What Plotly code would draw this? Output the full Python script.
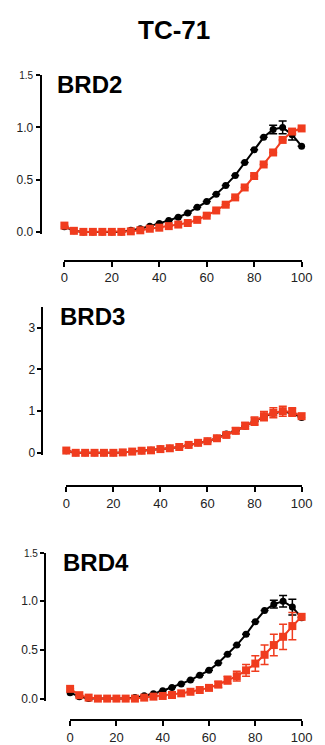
import plotly.graph_objects as go

# the page body has an 8px margin; compensate so the figure lands at reference pixels
OFF = 8
W, H = 325 - OFF, 745 - OFF

x_vals = [0, 4, 8, 12, 16, 20, 24, 28, 32, 36, 40, 44, 48, 52, 56, 60, 64, 68, 72, 76, 80, 84, 88, 92, 96, 100]

brd2_black = [0.05, 0.01, 0, 0, 0, 0, 0, 0.015, 0.03, 0.055, 0.08, 0.11, 0.14, 0.18, 0.235, 0.29, 0.36, 0.445, 0.54, 0.665, 0.785, 0.905, 0.98, 1.0, 0.93, 0.82]
brd2_black_err = [0, 0, 0, 0, 0, 0, 0, 0, 0, 0, 0, 0, 0, 0, 0, 0, 0, 0, 0, 0, 0, 0, 0.04, 0.06, 0.05, 0]
brd2_red = [0.06, 0.01, 0, 0, 0, 0, 0, 0.005, 0.015, 0.03, 0.04, 0.055, 0.07, 0.085, 0.115, 0.155, 0.205, 0.26, 0.33, 0.425, 0.535, 0.645, 0.76, 0.88, 0.96, 0.99]
brd2_red_err = [0, 0, 0, 0, 0, 0, 0, 0, 0, 0, 0, 0, 0, 0, 0, 0, 0, 0, 0, 0, 0, 0, 0, 0, 0.02, 0]

brd3_black = [0.05, 0, 0, 0, 0, 0, 0.01, 0.03, 0.05, 0.06, 0.09, 0.11, 0.14, 0.19, 0.24, 0.28, 0.35, 0.45, 0.53, 0.64, 0.75, 0.87, 0.95, 0.99, 0.95, 0.85]
brd3_red = [0.055, 0, 0, 0, 0, 0, 0.01, 0.03, 0.05, 0.06, 0.09, 0.11, 0.14, 0.19, 0.24, 0.28, 0.35, 0.43, 0.53, 0.65, 0.76, 0.88, 0.96, 1.0, 0.98, 0.88]
brd3_red_err = [0, 0, 0, 0, 0, 0, 0, 0, 0, 0, 0, 0, 0, 0, 0, 0.03, 0.04, 0.05, 0.07, 0.08, 0.1, 0.11, 0.12, 0.12, 0.1, 0]

brd4_black = [0.06, 0.02, 0, 0, 0, 0, 0, 0.01, 0.03, 0.05, 0.08, 0.115, 0.15, 0.19, 0.24, 0.29, 0.365, 0.455, 0.55, 0.66, 0.79, 0.905, 0.97, 1.0, 0.94, 0.83]
brd4_black_err = [0, 0, 0, 0, 0, 0, 0, 0, 0, 0, 0, 0, 0, 0, 0, 0, 0, 0, 0, 0, 0, 0, 0.04, 0.06, 0.08, 0]
brd4_red = [0.1, 0.035, 0.01, 0, 0, 0, 0, 0, 0.01, 0.02, 0.027, 0.037, 0.054, 0.07, 0.088, 0.11, 0.145, 0.19, 0.23, 0.29, 0.36, 0.45, 0.55, 0.635, 0.745, 0.84]
brd4_red_err = [0, 0, 0, 0, 0, 0, 0, 0, 0, 0, 0, 0, 0, 0, 0, 0.02, 0.03, 0.04, 0.05, 0.06, 0.08, 0.1, 0.11, 0.13, 0.14, 0]

ytick_a = [0, 0.5, 1.0, 1.5]
ytext_a = ["0.0", "0.5", "1.0", "<span style='font-size:10px'>1.5</span>"]
ytick_b = [0, 1, 2, 3]
ytext_b = ["0", "1", "2", "3"]
xticks = [0, 20, 40, 60, 80, 100]

panels = [
    dict(name="BRD2", black=brd2_black, berr=brd2_black_err, red=brd2_red, rerr=brd2_red_err,
         yrange=[-0.02, 1.5], ytick=ytick_a, ytext=ytext_a,
         ytop=71, ybot=232, yaxx=38, xaxy=259, x0=63, x1=312, label=(53, 80)),
    dict(name="BRD3", black=brd3_black, berr=[0]*26, red=brd3_red, rerr=brd3_red_err,
         yrange=[-0.05, 3.5], ytick=ytick_b, ytext=ytext_b,
         ytop=306, ybot=456, yaxx=40, xaxy=488, x0=65, x1=312, label=(56, 316)),
    dict(name="BRD4", black=brd4_black, berr=brd4_black_err, red=brd4_red, rerr=brd4_red_err,
         yrange=[-0.02, 1.5], ytick=ytick_a, ytext=ytext_a,
         ytop=555, ybot=705, yaxx=43, xaxy=725, x0=69, x1=312, label=(59, 565)),
]


def px(v):
    return (v - OFF) / W


def py(v):
    return 1 - (v - OFF) / H


RED = "#F03C1E"
FONT = "Arial, Liberation Sans, sans-serif"
fig = go.Figure()
layout = dict(width=W, height=H, margin=dict(l=0, r=0, t=0, b=0), autosize=False,
              paper_bgcolor="white", plot_bgcolor="white", showlegend=False,
              font=dict(family=FONT, color="#222"))
annotations = []
for i, p in enumerate(panels):
    n = "" if i == 0 else str(i + 1)
    xa, ya = "x" + n, "y" + n
    fig.add_trace(go.Scatter(x=x_vals, y=p["black"], xaxis=xa, yaxis=ya, mode="lines+markers",
                             line=dict(color="black", width=2),
                             marker=dict(symbol="circle", size=7, color="black"),
                             error_y=dict(type="data", array=p["berr"], color="black", thickness=1.5, width=4),
                             cliponaxis=False))
    fig.add_trace(go.Scatter(x=x_vals, y=p["red"], xaxis=xa, yaxis=ya, mode="lines+markers",
                             line=dict(color=RED, width=2),
                             marker=dict(symbol="square", size=8, color=RED),
                             error_y=dict(type="data", array=p["rerr"], color=RED, thickness=1.5, width=4),
                             cliponaxis=False))
    layout["xaxis" + n] = dict(domain=[px(p["x0"]), px(p["x1"])], range=[0, 100], anchor="free",
                               position=py(p["xaxy"]), showline=True, linecolor="black", linewidth=2,
                               ticks="outside", ticklen=5, tickwidth=2, tickcolor="black",
                               tickvals=xticks, showgrid=False, zeroline=False,
                               tickfont=dict(size=13, color="#222"), fixedrange=True)
    layout["yaxis" + n] = dict(domain=[py(p["ybot"]), py(p["ytop"])], range=p["yrange"],
                               anchor="free", position=px(p["yaxx"]), showline=True, linecolor="black",
                               linewidth=2, ticks="outside", ticklen=4, tickwidth=2, tickcolor="black",
                               tickvals=p["ytick"], ticktext=p["ytext"], showgrid=False, zeroline=False,
                               tickfont=dict(size=12, color="#222"), fixedrange=True)
    annotations.append(dict(text="<b>" + p["name"] + "</b>", x=px(p["label"][0]), y=py(p["label"][1]),
                            xref="paper", yref="paper", xanchor="left", yanchor="middle", showarrow=False,
                            font=dict(size=24, color="black", family=FONT)))
annotations.append(dict(text="<b>TC-71</b>", x=px(178.5), y=py(25), xref="paper", yref="paper",
                        xanchor="center", yanchor="middle", showarrow=False,
                        font=dict(size=26, color="black", family=FONT)))
layout["annotations"] = annotations
fig.update_layout(**layout)
fig.write_html("out.html")
